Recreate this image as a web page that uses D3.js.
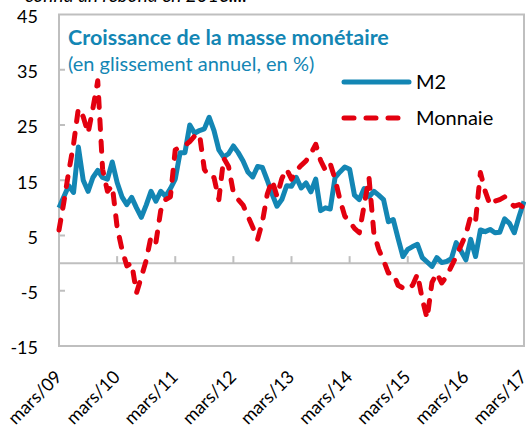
<!DOCTYPE html>
<html>
<head>
<meta charset="utf-8">
<script src="https://cdn.jsdelivr.net/npm/d3@7"></script>
<style>
  body { margin: 0; background: #fff; }
  text { font-family: Lato, 'Open Sans', sans-serif; }
</style>
</head>
<body>
<svg id="chart" width="526" height="430"></svg>
<script>
// y ticks and x labels
const yTicks = [-15, -5, 5, 15, 25, 35, 45];
const xLabels = ['mars/09', 'mars/10', 'mars/11', 'mars/12', 'mars/13', 'mars/14', 'mars/15', 'mars/16', 'mars/17'];

// monthly values, mars 2009 -> mars 2017
const m2 = [10, 12, 14, 12.8, 21, 15, 13, 15.5, 16.8, 15.5,
  15.2, 18.3, 14.6, 12, 10.6, 11.9, 10, 8.3, 10.5, 13,
  11.2, 13, 12.1, 13.5, 15.2, 20, 20, 25, 23.5, 24,
  24.3, 26.4, 24, 20.5, 19.2, 19.8, 21.2, 20, 18.5, 16.5,
  15.6, 17.5, 17.3, 15, 12.5, 10.3, 11.5, 14, 13.9, 15.5,
  13.6, 14.5, 12.9, 15.2, 9.5, 10, 9.8, 15.5, 16.5, 17.4,
  17, 12.3, 11.5, 13.5, 12, 13, 12.3, 11.5, 7.5, 7.9,
  4.5, 1.2, 2.5, 3, 3.4, 1, 0.2, -0.6, 1, 0.1,
  0.3, 0.8, 3.7, 2.2, 0.6, 4.3, 1.2, 6, 5.7, 6.1,
  5.5, 5.6, 8, 7.2, 5.5, 8.5, 11.2];
const monnaie = [6, 11, 16.5, 21.5, 28, 26.5, 23.5, 28, 33, 17,
  13, 14, 6.5, 2.5, -0.5, 0, -5.4, -2.5, 0.5, 4.8,
  3.7, 9.5, 11.5, 12, 20.5, 21, 21.3, 22, 23, 23.4,
  17, 15.5, 15.5, 11.5, 19, 17.5, 12.8, 11.5, 10.5, 8.5,
  6.5, 4.3, 7.5, 12.5, 15, 12.1, 15.3, 17, 15.2, 16.8,
  17.7, 18.5, 19.8, 21.5, 18.6, 16.8, 18, 15.2, 11.5, 8.5,
  7.5, 6.3, 5.5, 10.5, 15.5, 5.5, 2.5, 0.5, -1.8, -1.8,
  -4, -4.5, -4.8, -4, -2, -6.5, -10, -3.5, -1.8, -3.6,
  -2.4, -0.6, 1.2, 3.2, 5.2, 8.5, 7.6, 16.4, 13, 10.5,
  11.2, 11.5, 12, 11, 10.3, 10.6, 10];

const blue = '#1386b4', red = '#e3000f', grey = '#bfbfbf';
const plotL = 59, plotR = 524, plotT = 14.5, plotB = 346;

const svg = d3.select('#chart');

const months = d3.range(m2.length);
const x = d3.scaleLinear().domain([0, months.length - 1]).range([plotL, plotR]);
const y = d3.scaleLinear().domain([-15, 45]).range([plotB, plotT]);

// top text cut off by the crop
svg.append('text')
  .attr('x', 25).attr('y', 2)
  .style('font-style', 'italic').style('font-size', '19px')
  .text('connu un rebond en 2016....');

// plot box
svg.append('rect')
  .attr('x', plotL).attr('y', plotT)
  .attr('width', plotR - plotL).attr('height', plotB - plotT)
  .attr('fill', 'none').attr('stroke', grey).attr('stroke-width', 2);

// y ticks (inside)
svg.selectAll('.ytick')
  .data(yTicks.slice(1, -1))
  .enter().append('line')
  .attr('x1', plotL).attr('x2', plotL + 6)
  .attr('y1', d => y(d)).attr('y2', d => y(d))
  .attr('stroke', grey).attr('stroke-width', 2);

svg.selectAll('.ylab')
  .data(yTicks)
  .enter().append('text')
  .attr('x', 38).attr('y', d => y(d))
  .attr('dy', '0.46em')
  .attr('text-anchor', 'end')
  .style('font-size', '18px')
  .attr('fill', '#000')
  .text(d => d);

// zero line with ticks
svg.append('line')
  .attr('x1', plotL).attr('x2', plotR)
  .attr('y1', y(0)).attr('y2', y(0))
  .attr('stroke', grey).attr('stroke-width', 2);

const yearIdx = xLabels.map((d, i) => i * 12);
svg.selectAll('.xtick')
  .data(yearIdx)
  .enter().append('line')
  .attr('x1', d => x(d)).attr('x2', d => x(d))
  .attr('y1', y(0)).attr('y2', y(0) - 7)
  .attr('stroke', grey).attr('stroke-width', 2);

svg.selectAll('.xlab')
  .data(xLabels)
  .enter().append('text')
  .attr('transform', (d, i) => `translate(${x(yearIdx[i]) + 4},378) rotate(-45)`)
  .attr('text-anchor', 'end')
  .style('font-size', '18px')
  .text(d => d);

// series
const line = d3.line().x((d, i) => x(i)).y(d => y(d));

svg.append('path')
  .attr('d', line(m2))
  .attr('fill', 'none').attr('stroke', blue)
  .attr('stroke-width', 5).attr('stroke-linejoin', 'round');

svg.append('path')
  .attr('d', line(monnaie))
  .attr('fill', 'none').attr('stroke', red)
  .attr('stroke-width', 5).attr('stroke-linejoin', 'round')
  .attr('stroke-linecap', 'round').attr('stroke-dasharray', '10,12');

// title
svg.append('text')
  .attr('x', 68).attr('y', 45)
  .attr('fill', blue).style('font-weight', 'bold').style('font-size', '21.5px')
  .text('Croissance de la masse monétaire');
svg.append('text')
  .attr('x', 68).attr('y', 71)
  .attr('fill', blue).style('font-size', '20px')
  .text('(en glissement annuel, en %)');

// legend
const legend = [{ name: 'M2', color: blue, dash: null, y: 82 }, { name: 'Monnaie', color: red, dash: '10,12', y: 118 }];
const lg = svg.selectAll('.leg').data(legend).enter().append('g');
lg.append('line')
  .attr('x1', 344).attr('x2', d => d.dash ? 402 : 409)
  .attr('y1', d => d.y).attr('y2', d => d.y)
  .attr('stroke', d => d.color).attr('stroke-width', 5)
  .attr('stroke-linecap', 'round')
  .attr('stroke-dasharray', d => d.dash);
lg.append('text')
  .attr('x', 416).attr('y', d => d.y).attr('dy', '0.36em')
  .style('font-size', '20px')
  .text(d => d.name);
</script>
</body>
</html>
